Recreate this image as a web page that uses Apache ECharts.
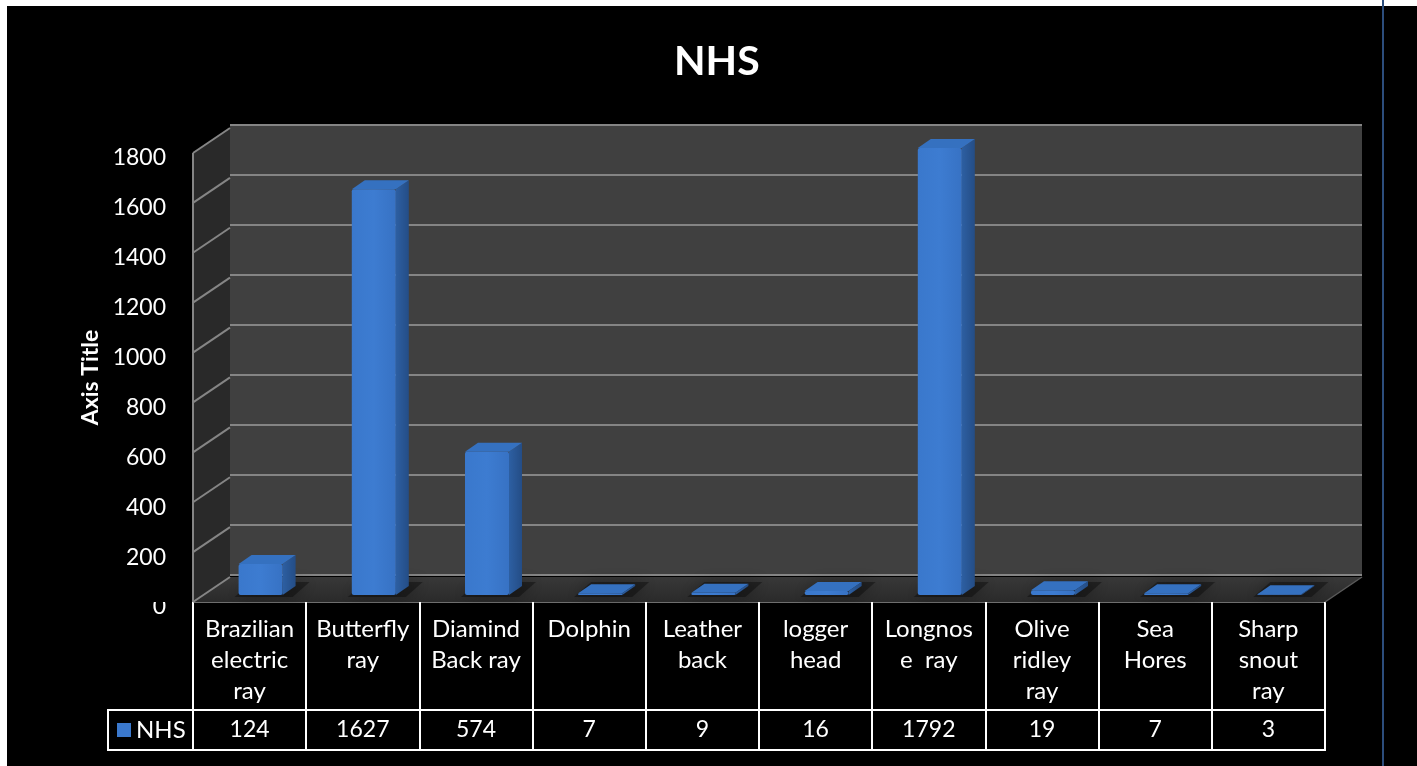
<!DOCTYPE html>
<html>
<head>
<meta charset="utf-8">
<script src="https://cdn.jsdelivr.net/npm/echarts@6/dist/echarts.min.js"></script>
<style>
  html, body { margin: 0; padding: 0; background: #ffffff; width: 1417px; height: 766px; overflow: hidden; }
  #chart { position: absolute; left: 7px; top: 6px; width: 1410px; height: 760px; background: #000; }
  #edge { position: absolute; left: 1382px; top: 0; width: 2px; height: 766px; background: #2c4d7c; z-index: 5; }
</style>
</head>
<body>
<div id="chart"></div>
<div id="edge"></div>
<script>
// Species counted in the NHS survey (labels wrapped as they appear in the table)
const categories = [
  'Brazilian\nelectric\nray', 'Butterfly\nray', 'Diamind\nBack ray', 'Dolphin',
  'Leather\nback', 'logger\nhead', 'Longnos\ne  ray', 'Olive\nridley\nray',
  'Sea\nHores', 'Sharp\nsnout\nray'
];
const nhsValues = [124, 1627, 574, 7, 9, 16, 1792, 19, 7, 3];
const yTickValues = [0, 200, 400, 600, 800, 1000, 1200, 1400, 1600, 1800];

const FONT = 'Lato, "Open Sans", sans-serif';
const OX = 7, OY = 6;               // container offset on the page
const WALL_DX = 37, WALL_DY = -25;  // depth of the box (front plane -> back wall)
const BAR_SX = 11, BAR_SY = -7;     // bars sit a little behind the front plane
const BAR_W = 44, BAR_DX = 13, BAR_DY = -9;

const chart = echarts.init(document.getElementById('chart'), null, { renderer: 'canvas' });

// Side wall, floor and the diagonal grid lines on the side wall
function renderFrame(params, api) {
  const cs = params.coordSys;
  const v = api.value(1);
  const p = api.coord([0, v]);
  const x0 = cs.x, xR = cs.x + cs.width, yB = cs.y + cs.height, yT = cs.y;
  const children = [];
  if (params.dataIndex === 0) {
    children.push({
      type: 'polygon',
      shape: { points: [[x0, yB], [x0, yT], [x0 + WALL_DX, yT + WALL_DY], [x0 + WALL_DX, yB + WALL_DY]] },
      style: { fill: '#292929' }
    });
    children.push({
      type: 'polygon',
      shape: { points: [[x0, yB], [x0 + WALL_DX, yB + WALL_DY], [xR + WALL_DX, yB + WALL_DY], [xR, yB]] },
      style: {
        fill: new echarts.graphic.LinearGradient(0, 0, 0, 1, [
          { offset: 0, color: '#383838' }, { offset: 1, color: '#2a2a2a' }
        ])
      }
    });
    children.push({
      type: 'polyline',
      shape: { points: [[xR + WALL_DX, yB + WALL_DY], [xR, yB]] },
      style: { stroke: '#5a5a5a', lineWidth: 1.5, fill: null }
    });
    children.push({
      type: 'line',
      shape: { x1: x0, y1: yT, x2: x0, y2: yB },
      style: { stroke: '#858585', lineWidth: 2 }
    });
  }
  children.push({
    type: 'line',
    shape: { x1: x0, y1: p[1], x2: x0 + WALL_DX, y2: p[1] + WALL_DY },
    style: { stroke: '#858585', lineWidth: 2 }
  });
  return { type: 'group', children: children };
}

// 3D-looking column: floor shadow, side face, top face, front face
function renderBar(params, api) {
  const i = api.value(0), v = api.value(1);
  const base = api.coord([i, 0]);
  const top = api.coord([i, v]);
  const cx = base[0] + BAR_SX;
  const yb = base[1] + BAR_SY;
  const yt = top[1] + BAR_SY;
  const xl = cx - BAR_W / 2, xr = cx + BAR_W / 2;
  return {
    type: 'group',
    children: [
      {
        type: 'polygon',
        shape: { points: [[xl - 4, yb + 2], [xr + 10, yb + 2], [xr + BAR_DX + 14, yb + BAR_DY - 4], [xl + BAR_DX, yb + BAR_DY - 4]] },
        style: { fill: 'rgba(0,0,0,0.35)', shadowBlur: 14, shadowColor: 'rgba(0,0,0,0.8)' }
      },
      {
        type: 'polygon',
        shape: { points: [[xr, yb], [xr + BAR_DX, yb + BAR_DY], [xr + BAR_DX, yt + BAR_DY], [xr, yt]] },
        style: {
          fill: new echarts.graphic.LinearGradient(0, 0, 1, 0, [
            { offset: 0, color: '#2d5fa2' }, { offset: 1, color: '#244d86' }
          ])
        }
      },
      {
        type: 'polygon',
        shape: { points: [[xl, yt], [xr, yt], [xr + BAR_DX, yt + BAR_DY], [xl + BAR_DX, yt + BAR_DY]] },
        style: { fill: '#3571c0' }
      },
      {
        type: 'rect',
        shape: { x: xl, y: yt, width: BAR_W, height: Math.max(yb - yt, 0.5), r: 2 },
        style: {
          fill: new echarts.graphic.LinearGradient(0, 0, 1, 0, [
            { offset: 0, color: '#3a78cc' }, { offset: 0.5, color: '#3d7cd1' }, { offset: 1, color: '#3772c4' }
          ])
        }
      }
    ]
  };
}

const option = {
  backgroundColor: '#000000',
  animation: false,
  title: {
    text: 'NHS',
    left: 669 - OX,
    top: 36 - OY,
    textStyle: { color: '#ffffff', fontSize: 41, fontWeight: 'bold', fontFamily: FONT }
  },
  legend: {
    data: ['NHS'],
    left: 117 - OX,
    top: 718 - OY,
    padding: 0,
    icon: 'rect',
    itemWidth: 14,
    itemHeight: 14,
    itemGap: 8,
    selectedMode: false,
    textStyle: { color: '#ffffff', fontSize: 24, fontFamily: FONT, lineHeight: 24 }
  },
  grid: [
    { left: 193 - OX, top: 153 - OY, width: 1132, height: 449, containLabel: false },
    { left: 230 - OX, top: 125 - OY, width: 1132, height: 450, show: true, backgroundColor: '#404040', borderWidth: 0 }
  ],
  xAxis: [
    {
      type: 'category', gridIndex: 0, data: categories,
      axisLine: { show: true, lineStyle: { color: '#6e6e6e', width: 2 } },
      axisTick: { show: true, length: 148, lineStyle: { color: '#ffffff', width: 2 } },
      axisLabel: {
        interval: 0, color: '#ffffff', fontSize: 24, fontFamily: FONT,
        lineHeight: 31, verticalAlign: 'top', margin: 12
      },
      splitLine: { show: false }
    },
    {
      type: 'category', gridIndex: 0, position: 'bottom', data: categories,
      axisLine: { show: false }, axisTick: { show: false },
      axisLabel: {
        interval: 0, color: '#ffffff', fontSize: 23, fontFamily: FONT,
        verticalAlign: 'middle', margin: 128,
        formatter: function (val, idx) { return String(nhsValues[idx]); }
      }
    },
    { type: 'value', gridIndex: 1, show: false }
  ],
  yAxis: [
    {
      type: 'value', gridIndex: 0, min: 0, max: 1800, interval: 200,
      name: 'Axis Title', nameLocation: 'middle', nameRotate: 90, nameGap: 91,
      nameTextStyle: { color: '#ffffff', fontSize: 23, fontWeight: 'bold', fontFamily: FONT },
      axisLine: { show: false }, axisTick: { show: false },
      axisLabel: {
        color: '#ffffff', fontSize: 23, fontFamily: FONT, margin: 27,
        verticalAlign: 'top', lineHeight: 10,
        formatter: function (v) { return String(v); }
      },
      splitLine: { show: false }
    },
    {
      type: 'value', gridIndex: 1, min: 0, max: 1800, interval: 200,
      axisLine: { show: false }, axisTick: { show: false }, axisLabel: { show: false },
      splitLine: { show: true, lineStyle: { color: '#858585', width: 2 } }
    }
  ],
  graphic: [
    // table frame around the value row and legend cell
    {
      type: 'rect', z: 10,
      shape: { x: 108 - OX, y: 710 - OY, width: 1325 - 108, height: 40 },
      style: { fill: null, stroke: '#ffffff', lineWidth: 2 }
    },
    // the bottom tick label is partly hidden behind the chart floor edge
    {
      type: 'rect', z: 10,
      shape: { x: 140 - OX, y: 585 - OY, width: 45, height: 17 },
      style: { fill: '#000000' }
    }
  ],
  series: [
    {
      name: 'frame', type: 'custom', xAxisIndex: 0, yAxisIndex: 0, silent: true, z: 1,
      renderItem: renderFrame,
      data: yTickValues.map(function (v) { return [0, v]; }),
      encode: { x: 0, y: 1 }
    },
    {
      name: 'NHS', type: 'custom', xAxisIndex: 0, yAxisIndex: 0, z: 3,
      itemStyle: { color: '#3b79cd' },
      renderItem: renderBar,
      data: nhsValues.map(function (v, i) { return [i, v]; }),
      encode: { x: 0, y: 1 }
    }
  ]
};

chart.setOption(option);
</script>
</body>
</html>
